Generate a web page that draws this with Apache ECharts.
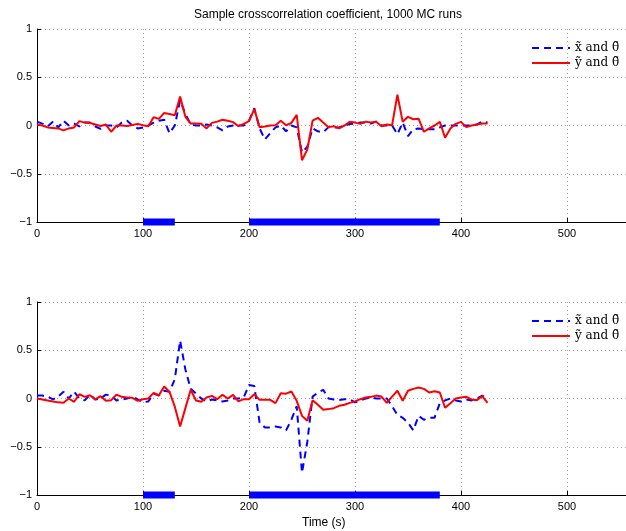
<!DOCTYPE html>
<html>
<head>
<meta charset="utf-8">
<script src="https://cdn.jsdelivr.net/npm/echarts@6/dist/echarts.min.js"></script>
<style>
  html, body { margin: 0; padding: 0; background: #fff; }
  #chart { width: 626px; height: 531px; }
</style>
</head>
<body>
<div id="chart"></div>
<script>
// sample times (s)
const times = [
  0, 5, 10, 15, 20, 25, 30, 35, 40, 45,
  50, 55, 60, 65, 70, 75, 80, 85, 90, 95,
  100, 105, 110, 115, 120, 125, 130, 135, 140, 145,
  150, 155, 160, 165, 170, 175, 180, 185, 190, 195,
  200, 205, 210, 215, 220, 225, 230, 235, 240, 245,
  250, 255, 260, 265, 270, 275, 280, 285, 290, 295,
  300, 305, 310, 315, 320, 325, 330, 335, 340, 345,
  350, 355, 360, 365, 370, 375, 380, 385, 390, 395,
  400, 405, 410, 415, 420, 425
]

// upper panel
const topX = [
  0.04, 0.02, -0.01, 0.04, -0.02, 0.05, 0.00, 0.02, -0.01, 0.03,
  0.03, -0.01, -0.035, 0.00, 0.00, -0.02, 0.03, 0.05, 0.00, -0.03,
  -0.02, 0.00, 0.03, 0.05, 0.06, -0.08, 0.00, 0.26, 0.12, 0.01,
  0.00, 0.00, 0.01, 0.00, -0.02, -0.05, -0.01, 0.00, 0.00, 0.00,
  0.05, 0.18, -0.03, -0.145, -0.08, -0.02, 0.00, -0.06, 0.00, -0.02,
  -0.28, -0.22, -0.03, -0.06, -0.07, -0.017, -0.02, -0.02, 0.00, 0.015,
  0.02, 0.03, 0.03, 0.02, 0.04, 0.00, 0.00, 0.00, -0.09, 0.03,
  -0.11, -0.04, -0.03, -0.04, -0.04, -0.04, -0.02, 0.00, 0.00, 0.00,
  0.00, 0.00, 0.00, 0.01, 0.04, 0.03
]
const topY = [
  0.01, 0.00, -0.02, -0.025, -0.03, -0.05, -0.03, -0.02, 0.045, 0.03,
  0.025, 0.01, -0.005, 0.01, -0.065, 0.00, 0.00, -0.005, 0.005, 0.017,
  0.003, -0.007, 0.086, 0.069, 0.13, 0.12, 0.107, 0.30, 0.09, 0.02,
  0.02, 0.017, -0.03, 0.027, 0.04, 0.06, 0.05, 0.035, -0.007, 0.017,
  0.045, 0.17, -0.017, -0.01, 0.00, 0.003, 0.05, 0.003, 0.027, 0.11,
  -0.36, -0.25, 0.05, 0.08, 0.03, -0.017, -0.007, -0.03, 0.00, 0.038,
  0.03, 0.017, 0.04, 0.03, 0.038, -0.007, 0.01, 0.003, 0.32, 0.038,
  0.09, 0.065, 0.07, -0.065, -0.03, 0.00, 0.038, -0.127, -0.03, 0.017,
  0.038, -0.017, 0.00, 0.01, 0.02, 0.02
]

// lower panel
const bottomX = [
  0.03, 0.03, 0.02, -0.01, 0.02, 0.07, 0.00, 0.07, 0.00, -0.02,
  0.04, -0.01, 0.00, 0.04, 0.03, -0.02, -0.01, 0.00, 0.02, -0.01,
  -0.04, -0.03, 0.05, 0.03, 0.08, 0.07, 0.20, 0.60, 0.30, 0.10,
  0.05, 0.00, -0.03, -0.01, -0.02, -0.03, -0.02, 0.00, 0.00, 0.01,
  0.14, 0.13, -0.25, -0.30, -0.30, -0.29, -0.30, -0.33, -0.22, -0.08,
  -0.77, -0.45, 0.02, 0.06, 0.09, 0.00, -0.01, -0.015, -0.007, -0.01,
  -0.04, -0.02, 0.00, 0.01, 0.00, 0.00, 0.00, -0.08, -0.17, -0.20,
  -0.25, -0.33, -0.18, -0.22, -0.20, -0.20, -0.05, -0.02, 0.00, -0.02,
  -0.03, -0.01, -0.02, 0.00, 0.03, 0.00
]
const bottomY = [
  0.00, -0.01, -0.02, -0.03, -0.04, -0.044, 0.00, -0.034, 0.044, 0.017,
  0.034, -0.01, 0.024, -0.024, -0.017, 0.04, 0.017, 0.01, 0.007, -0.024,
  -0.007, 0.00, 0.058, 0.034, 0.125, 0.068, -0.085, -0.29, -0.10, 0.09,
  -0.02, -0.034, 0.01, 0.027, -0.007, 0.038, 0.00, 0.038, -0.03, -0.007,
  -0.007, 0.045, -0.014, -0.014, -0.014, -0.048, 0.055, 0.05, 0.072, -0.024,
  -0.18, -0.23, -0.017, -0.065, -0.117, -0.11, -0.10, -0.076, -0.065, -0.045,
  -0.03, -0.007, 0.01, 0.017, 0.03, 0.02, -0.045, 0.02, 0.08, -0.024,
  0.08, 0.10, 0.113, 0.10, 0.062, 0.076, 0.062, -0.096, -0.05, 0.00,
  0.01, 0.017, -0.01, -0.017, 0.024, -0.045
]

// intervals marked along the bottom of each panel
const spans = [[100, 130], [200, 380]]

const xTicks = [0, 100, 200, 300, 400, 500]
const yTicks = [-1, -0.5, 0, 0.5, 1]

const nameX = 'x̃ and θ̃'
const nameY = 'ỹ and θ̃'

const axisFont = { fontFamily: 'Liberation Sans', fontSize: 11, color: '#000' }
const dotted = { color: '#a0a0a0', type: [1, 3], width: 1 }

function pairs(ys) {
  return times.map((t, i) => [t, ys[i]])
}

function spanData() {
  const out = []
  spans.forEach(([a, b], i) => {
    if (i > 0) out.push(null)
    out.push([a, -1], [b, -1])
  })
  return out
}

// the figure is cut at the right edge, axis runs on past the canvas
function xAxisFor(idx) {
  return {
    type: 'value', gridIndex: idx,
    min: 0, max: 600, interval: 100,
    axisLine: { show: true, onZero: false, lineStyle: { color: '#000', width: 1 } },
    axisTick: { show: true, inside: true, length: 4, lineStyle: { color: '#000' } },
    axisLabel: { ...axisFont, margin: 6, formatter: (v) => xTicks.includes(v) ? String(v) : '' },
    splitLine: { show: true, showMaxLine: false, lineStyle: dotted },
  }
}

function yAxisFor(idx) {
  return {
    type: 'value', gridIndex: idx,
    min: -1, max: 1, interval: 0.5,
    axisLine: { show: true, lineStyle: { color: '#000', width: 1 } },
    axisTick: { show: true, inside: true, length: 4, lineStyle: { color: '#000' } },
    axisLabel: {
      ...axisFont, margin: 5,
      formatter: (v) => yTicks.includes(v) ? String(v).replace('-', '\u2212') : '',
    },
    splitLine: { show: true, lineStyle: dotted },
  }
}

function seriesFor(idx, xs, ys) {
  return [
    {
      name: nameX, type: 'line', xAxisIndex: idx, yAxisIndex: idx,
      data: pairs(xs), symbol: 'none', z: 3,
      lineStyle: { color: '#0000ff', width: 2, type: [7, 5] },
      itemStyle: { color: '#0000ff' },
    },
    {
      name: nameY, type: 'line', xAxisIndex: idx, yAxisIndex: idx,
      data: pairs(ys), symbol: 'none', z: 4,
      lineStyle: { color: '#ff0000', width: 2 },
      itemStyle: { color: '#ff0000' },
    },
    {
      name: 'spans', type: 'line', xAxisIndex: idx, yAxisIndex: idx,
      data: spanData(), symbol: 'none', clip: false, z: 5,
      connectNulls: false,
      lineStyle: { color: '#0000ff', width: 7, cap: 'butt' },
      silent: true,
    },
  ]
}

function legendFor(top) {
  return {
    data: [nameX, nameY],
    orient: 'vertical',
    left: 526, top: top,
    itemWidth: 38, itemHeight: 10, itemGap: 3,
    itemStyle: { opacity: 0 },
    textStyle: { fontFamily: 'DejaVu Serif', fontSize: 12, color: '#000' },
    backgroundColor: 'transparent',
  }
}

const chart = echarts.init(document.getElementById('chart'), null, { renderer: 'canvas' })

chart.setOption({
  backgroundColor: '#fff',
  animation: false,
  title: [
    {
      text: 'Sample crosscorrelation coefficient, 1000 MC runs',
      left: 189, top: 4,
      textStyle: { fontFamily: 'Liberation Sans', fontSize: 12, fontWeight: 'normal', color: '#000' },
    },
    {
      text: 'Time (s)',
      left: 297, top: 512,
      textStyle: { fontFamily: 'Liberation Sans', fontSize: 12, fontWeight: 'normal', color: '#000' },
    },
  ],
  legend: [legendFor(37), legendFor(310)],
  grid: [
    { left: 37, top: 29, height: 193, right: -47, outerBoundsMode: 'none' },
    { left: 37, top: 302, height: 193, right: -47, outerBoundsMode: 'none' },
  ],
  xAxis: [xAxisFor(0), xAxisFor(1)],
  yAxis: [yAxisFor(0), yAxisFor(1)],
  series: [...seriesFor(0, topX, topY), ...seriesFor(1, bottomX, bottomY)],
})
</script>
</body>
</html>
